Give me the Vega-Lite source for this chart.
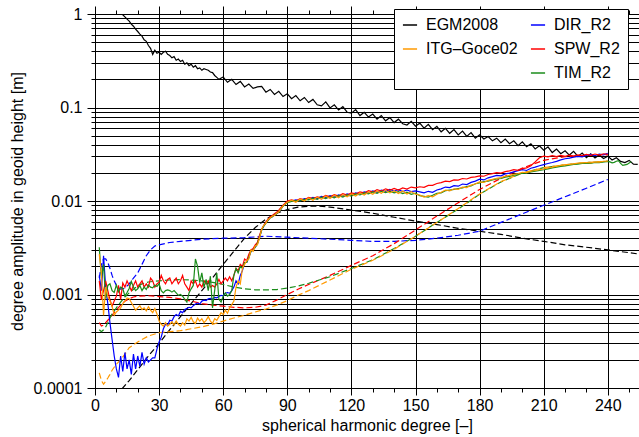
{
"$schema": "https://vega.github.io/schema/vega-lite/v6.json",
"width": 544,
"height": 374,
"autosize": "none",
"padding": {"left": 95, "top": 14, "right": 0, "bottom": 49},
"background": "white",
"config": {"font": "Liberation Sans", "view": {"stroke": null}},
"data": {"values": [
{"k":"EGM2008","t":"d","n":2,"v":0.000049},{"k":"EGM2008","t":"d","n":5,"v":0.000059},{"k":"EGM2008","t":"d","n":8,"v":0.000072},{"k":"EGM2008","t":"d","n":10,"v":0.000083},{"k":"EGM2008","t":"d","n":13,"v":0.0001},{"k":"EGM2008","t":"d","n":16,"v":0.00012},{"k":"EGM2008","t":"d","n":20,"v":0.000157},{"k":"EGM2008","t":"d","n":25,"v":0.00022},{"k":"EGM2008","t":"d","n":30,"v":0.0003},{"k":"EGM2008","t":"d","n":35,"v":0.00042},{"k":"EGM2008","t":"d","n":40,"v":0.00058},{"k":"EGM2008","t":"d","n":45,"v":0.0008},{"k":"EGM2008","t":"d","n":50,"v":0.0011},{"k":"EGM2008","t":"d","n":55,"v":0.0015},{"k":"EGM2008","t":"d","n":60,"v":0.0021},{"k":"EGM2008","t":"d","n":65,"v":0.0029},{"k":"EGM2008","t":"d","n":70,"v":0.004},{"k":"EGM2008","t":"d","n":75,"v":0.0052},{"k":"EGM2008","t":"d","n":80,"v":0.0064},{"k":"EGM2008","t":"d","n":85,"v":0.0074},{"k":"EGM2008","t":"d","n":90,"v":0.0081},{"k":"EGM2008","t":"d","n":95,"v":0.0086},{"k":"EGM2008","t":"d","n":100,"v":0.0088},{"k":"EGM2008","t":"d","n":105,"v":0.0088},{"k":"EGM2008","t":"d","n":110,"v":0.0086},{"k":"EGM2008","t":"d","n":120,"v":0.008},{"k":"EGM2008","t":"d","n":130,"v":0.0074},{"k":"EGM2008","t":"d","n":140,"v":0.0067},{"k":"EGM2008","t":"d","n":150,"v":0.0061},{"k":"EGM2008","t":"d","n":160,"v":0.0056},{"k":"EGM2008","t":"d","n":170,"v":0.0051},{"k":"EGM2008","t":"d","n":180,"v":0.00475},{"k":"EGM2008","t":"d","n":190,"v":0.0044},{"k":"EGM2008","t":"d","n":200,"v":0.004},{"k":"EGM2008","t":"d","n":210,"v":0.0037},{"k":"EGM2008","t":"d","n":220,"v":0.0034},{"k":"EGM2008","t":"d","n":230,"v":0.0032},{"k":"EGM2008","t":"d","n":240,"v":0.003},{"k":"EGM2008","t":"d","n":250,"v":0.0028},{"k":"EGM2008","t":"d","n":254,"v":0.00272},
{"k":"DIR_R2","t":"d","n":2,"v":0.0015},{"k":"DIR_R2","t":"d","n":3,"v":0.0021},{"k":"DIR_R2","t":"d","n":4,"v":0.0024},{"k":"DIR_R2","t":"d","n":5,"v":0.0024},{"k":"DIR_R2","t":"d","n":6,"v":0.0022},{"k":"DIR_R2","t":"d","n":7,"v":0.0019},{"k":"DIR_R2","t":"d","n":8,"v":0.0016},{"k":"DIR_R2","t":"d","n":9,"v":0.0014},{"k":"DIR_R2","t":"d","n":10,"v":0.00125},{"k":"DIR_R2","t":"d","n":11,"v":0.00118},{"k":"DIR_R2","t":"d","n":12,"v":0.00114},{"k":"DIR_R2","t":"d","n":14,"v":0.00117},{"k":"DIR_R2","t":"d","n":16,"v":0.0013},{"k":"DIR_R2","t":"d","n":18,"v":0.0015},{"k":"DIR_R2","t":"d","n":20,"v":0.0017},{"k":"DIR_R2","t":"d","n":22,"v":0.0021},{"k":"DIR_R2","t":"d","n":24,"v":0.0026},{"k":"DIR_R2","t":"d","n":26,"v":0.003},{"k":"DIR_R2","t":"d","n":28,"v":0.0033},{"k":"DIR_R2","t":"d","n":30,"v":0.0034},{"k":"DIR_R2","t":"d","n":35,"v":0.0036},{"k":"DIR_R2","t":"d","n":40,"v":0.0037},{"k":"DIR_R2","t":"d","n":45,"v":0.0038},{"k":"DIR_R2","t":"d","n":50,"v":0.0039},{"k":"DIR_R2","t":"d","n":60,"v":0.004},{"k":"DIR_R2","t":"d","n":70,"v":0.00405},{"k":"DIR_R2","t":"d","n":80,"v":0.0042},{"k":"DIR_R2","t":"d","n":90,"v":0.0041},{"k":"DIR_R2","t":"d","n":100,"v":0.004},{"k":"DIR_R2","t":"d","n":110,"v":0.0039},{"k":"DIR_R2","t":"d","n":120,"v":0.0038},{"k":"DIR_R2","t":"d","n":130,"v":0.0037},{"k":"DIR_R2","t":"d","n":140,"v":0.0037},{"k":"DIR_R2","t":"d","n":150,"v":0.0038},{"k":"DIR_R2","t":"d","n":160,"v":0.004},{"k":"DIR_R2","t":"d","n":170,"v":0.0043},{"k":"DIR_R2","t":"d","n":180,"v":0.00475},{"k":"DIR_R2","t":"d","n":190,"v":0.0059},{"k":"DIR_R2","t":"d","n":200,"v":0.0073},{"k":"DIR_R2","t":"d","n":210,"v":0.009},{"k":"DIR_R2","t":"d","n":220,"v":0.0111},{"k":"DIR_R2","t":"d","n":230,"v":0.0137},{"k":"DIR_R2","t":"d","n":240,"v":0.017},
{"k":"SPW_R2","t":"d","n":2,"v":0.0005},{"k":"SPW_R2","t":"d","n":3,"v":0.00046},{"k":"SPW_R2","t":"d","n":4,"v":0.00047},{"k":"SPW_R2","t":"d","n":5,"v":0.0005},{"k":"SPW_R2","t":"d","n":6,"v":0.00053},{"k":"SPW_R2","t":"d","n":7,"v":0.00056},{"k":"SPW_R2","t":"d","n":8,"v":0.0006},{"k":"SPW_R2","t":"d","n":10,"v":0.00068},{"k":"SPW_R2","t":"d","n":12,"v":0.00077},{"k":"SPW_R2","t":"d","n":14,"v":0.00085},{"k":"SPW_R2","t":"d","n":16,"v":0.0009},{"k":"SPW_R2","t":"d","n":18,"v":0.00094},{"k":"SPW_R2","t":"d","n":20,"v":0.00096},{"k":"SPW_R2","t":"d","n":25,"v":0.00097},{"k":"SPW_R2","t":"d","n":30,"v":0.00095},{"k":"SPW_R2","t":"d","n":35,"v":0.00093},{"k":"SPW_R2","t":"d","n":40,"v":0.0009},{"k":"SPW_R2","t":"d","n":45,"v":0.00085},{"k":"SPW_R2","t":"d","n":50,"v":0.0008},{"k":"SPW_R2","t":"d","n":55,"v":0.00077},{"k":"SPW_R2","t":"d","n":60,"v":0.00075},{"k":"SPW_R2","t":"d","n":65,"v":0.00073},{"k":"SPW_R2","t":"d","n":70,"v":0.00072},{"k":"SPW_R2","t":"d","n":75,"v":0.00073},{"k":"SPW_R2","t":"d","n":80,"v":0.00077},{"k":"SPW_R2","t":"d","n":85,"v":0.00087},{"k":"SPW_R2","t":"d","n":90,"v":0.001},{"k":"SPW_R2","t":"d","n":95,"v":0.00114},{"k":"SPW_R2","t":"d","n":100,"v":0.00128},{"k":"SPW_R2","t":"d","n":110,"v":0.0016},{"k":"SPW_R2","t":"d","n":120,"v":0.00205},{"k":"SPW_R2","t":"d","n":130,"v":0.0026},{"k":"SPW_R2","t":"d","n":140,"v":0.0035},{"k":"SPW_R2","t":"d","n":150,"v":0.0049},{"k":"SPW_R2","t":"d","n":160,"v":0.0069},{"k":"SPW_R2","t":"d","n":170,"v":0.0096},{"k":"SPW_R2","t":"d","n":180,"v":0.0133},{"k":"SPW_R2","t":"d","n":190,"v":0.0175},{"k":"SPW_R2","t":"d","n":200,"v":0.0225},{"k":"SPW_R2","t":"d","n":210,"v":0.0272},{"k":"SPW_R2","t":"d","n":220,"v":0.0298},{"k":"SPW_R2","t":"d","n":230,"v":0.0308},{"k":"SPW_R2","t":"d","n":240,"v":0.0312},
{"k":"TIM_R2","t":"d","n":2,"v":0.00042},{"k":"TIM_R2","t":"d","n":3,"v":0.0004},{"k":"TIM_R2","t":"d","n":4,"v":0.00042},{"k":"TIM_R2","t":"d","n":5,"v":0.00045},{"k":"TIM_R2","t":"d","n":6,"v":0.0005},{"k":"TIM_R2","t":"d","n":7,"v":0.00056},{"k":"TIM_R2","t":"d","n":8,"v":0.00062},{"k":"TIM_R2","t":"d","n":10,"v":0.00072},{"k":"TIM_R2","t":"d","n":12,"v":0.00083},{"k":"TIM_R2","t":"d","n":14,"v":0.00094},{"k":"TIM_R2","t":"d","n":16,"v":0.00104},{"k":"TIM_R2","t":"d","n":18,"v":0.00114},{"k":"TIM_R2","t":"d","n":20,"v":0.00124},{"k":"TIM_R2","t":"d","n":22,"v":0.0013},{"k":"TIM_R2","t":"d","n":25,"v":0.00136},{"k":"TIM_R2","t":"d","n":30,"v":0.0014},{"k":"TIM_R2","t":"d","n":35,"v":0.00143},{"k":"TIM_R2","t":"d","n":40,"v":0.00144},{"k":"TIM_R2","t":"d","n":45,"v":0.00143},{"k":"TIM_R2","t":"d","n":50,"v":0.0014},{"k":"TIM_R2","t":"d","n":55,"v":0.00135},{"k":"TIM_R2","t":"d","n":60,"v":0.00128},{"k":"TIM_R2","t":"d","n":65,"v":0.0012},{"k":"TIM_R2","t":"d","n":70,"v":0.00115},{"k":"TIM_R2","t":"d","n":75,"v":0.00112},{"k":"TIM_R2","t":"d","n":80,"v":0.00112},{"k":"TIM_R2","t":"d","n":85,"v":0.00113},{"k":"TIM_R2","t":"d","n":90,"v":0.00117},{"k":"TIM_R2","t":"d","n":95,"v":0.00123},{"k":"TIM_R2","t":"d","n":100,"v":0.00132},{"k":"TIM_R2","t":"d","n":110,"v":0.00155},{"k":"TIM_R2","t":"d","n":120,"v":0.0019},{"k":"TIM_R2","t":"d","n":130,"v":0.00235},{"k":"TIM_R2","t":"d","n":140,"v":0.0031},{"k":"TIM_R2","t":"d","n":150,"v":0.0042},{"k":"TIM_R2","t":"d","n":160,"v":0.0059},{"k":"TIM_R2","t":"d","n":170,"v":0.0082},{"k":"TIM_R2","t":"d","n":180,"v":0.0118},{"k":"TIM_R2","t":"d","n":190,"v":0.016},{"k":"TIM_R2","t":"d","n":200,"v":0.0199},{"k":"TIM_R2","t":"d","n":210,"v":0.0227},{"k":"TIM_R2","t":"d","n":220,"v":0.0244},{"k":"TIM_R2","t":"d","n":230,"v":0.0257},{"k":"TIM_R2","t":"d","n":240,"v":0.0265},
{"k":"ITG–Goce02","t":"d","n":2,"v":0.000145},{"k":"ITG–Goce02","t":"d","n":3,"v":0.00012},{"k":"ITG–Goce02","t":"d","n":4,"v":0.00011},{"k":"ITG–Goce02","t":"d","n":5,"v":0.000118},{"k":"ITG–Goce02","t":"d","n":6,"v":0.000128},{"k":"ITG–Goce02","t":"d","n":7,"v":0.00014},{"k":"ITG–Goce02","t":"d","n":8,"v":0.000155},{"k":"ITG–Goce02","t":"d","n":10,"v":0.00018},{"k":"ITG–Goce02","t":"d","n":12,"v":0.0002},{"k":"ITG–Goce02","t":"d","n":14,"v":0.00023},{"k":"ITG–Goce02","t":"d","n":16,"v":0.00027},{"k":"ITG–Goce02","t":"d","n":18,"v":0.00029},{"k":"ITG–Goce02","t":"d","n":20,"v":0.00031},{"k":"ITG–Goce02","t":"d","n":22,"v":0.00033},{"k":"ITG–Goce02","t":"d","n":25,"v":0.00036},{"k":"ITG–Goce02","t":"d","n":30,"v":0.00039},{"k":"ITG–Goce02","t":"d","n":35,"v":0.0004},{"k":"ITG–Goce02","t":"d","n":40,"v":0.00041},{"k":"ITG–Goce02","t":"d","n":45,"v":0.00043},{"k":"ITG–Goce02","t":"d","n":50,"v":0.00045},{"k":"ITG–Goce02","t":"d","n":55,"v":0.00048},{"k":"ITG–Goce02","t":"d","n":60,"v":0.00052},{"k":"ITG–Goce02","t":"d","n":65,"v":0.00056},{"k":"ITG–Goce02","t":"d","n":70,"v":0.0006},{"k":"ITG–Goce02","t":"d","n":75,"v":0.00065},{"k":"ITG–Goce02","t":"d","n":80,"v":0.0007},{"k":"ITG–Goce02","t":"d","n":85,"v":0.00077},{"k":"ITG–Goce02","t":"d","n":90,"v":0.00086},{"k":"ITG–Goce02","t":"d","n":95,"v":0.00098},{"k":"ITG–Goce02","t":"d","n":100,"v":0.0011},{"k":"ITG–Goce02","t":"d","n":110,"v":0.00143},{"k":"ITG–Goce02","t":"d","n":120,"v":0.00186},{"k":"ITG–Goce02","t":"d","n":130,"v":0.00232},{"k":"ITG–Goce02","t":"d","n":140,"v":0.00305},{"k":"ITG–Goce02","t":"d","n":150,"v":0.0042},{"k":"ITG–Goce02","t":"d","n":160,"v":0.0059},{"k":"ITG–Goce02","t":"d","n":170,"v":0.0083},{"k":"ITG–Goce02","t":"d","n":180,"v":0.0119},{"k":"ITG–Goce02","t":"d","n":190,"v":0.0161},{"k":"ITG–Goce02","t":"d","n":200,"v":0.02},{"k":"ITG–Goce02","t":"d","n":210,"v":0.0227},{"k":"ITG–Goce02","t":"d","n":220,"v":0.0244},{"k":"ITG–Goce02","t":"d","n":230,"v":0.0258},{"k":"ITG–Goce02","t":"d","n":240,"v":0.0266},
{"k":"EGM2008","t":"s","n":10,"v":1.3},{"k":"EGM2008","t":"s","n":11,"v":1.0},{"k":"EGM2008","t":"s","n":12,"v":1.01},{"k":"EGM2008","t":"s","n":13,"v":0.98},{"k":"EGM2008","t":"s","n":14,"v":0.93},{"k":"EGM2008","t":"s","n":15,"v":0.88},{"k":"EGM2008","t":"s","n":16,"v":0.84},{"k":"EGM2008","t":"s","n":17,"v":0.78},{"k":"EGM2008","t":"s","n":18,"v":0.74},{"k":"EGM2008","t":"s","n":19,"v":0.69},{"k":"EGM2008","t":"s","n":20,"v":0.65},{"k":"EGM2008","t":"s","n":21,"v":0.61},{"k":"EGM2008","t":"s","n":22,"v":0.58},{"k":"EGM2008","t":"s","n":23,"v":0.53},{"k":"EGM2008","t":"s","n":24,"v":0.51},{"k":"EGM2008","t":"s","n":25,"v":0.46},{"k":"EGM2008","t":"s","n":26,"v":0.43},{"k":"EGM2008","t":"s","n":27,"v":0.37},{"k":"EGM2008","t":"s","n":28,"v":0.41},{"k":"EGM2008","t":"s","n":29,"v":0.38},{"k":"EGM2008","t":"s","n":30,"v":0.39},{"k":"EGM2008","t":"s","n":31,"v":0.37},{"k":"EGM2008","t":"s","n":32,"v":0.39},{"k":"EGM2008","t":"s","n":33,"v":0.4},{"k":"EGM2008","t":"s","n":34,"v":0.37},{"k":"EGM2008","t":"s","n":35,"v":0.36},{"k":"EGM2008","t":"s","n":36,"v":0.34},{"k":"EGM2008","t":"s","n":37,"v":0.35},{"k":"EGM2008","t":"s","n":38,"v":0.32},{"k":"EGM2008","t":"s","n":39,"v":0.33},{"k":"EGM2008","t":"s","n":40,"v":0.31},{"k":"EGM2008","t":"s","n":41,"v":0.32},{"k":"EGM2008","t":"s","n":42,"v":0.29},{"k":"EGM2008","t":"s","n":43,"v":0.3},{"k":"EGM2008","t":"s","n":44,"v":0.28},{"k":"EGM2008","t":"s","n":45,"v":0.29},{"k":"EGM2008","t":"s","n":46,"v":0.27},{"k":"EGM2008","t":"s","n":47,"v":0.28},{"k":"EGM2008","t":"s","n":48,"v":0.26},{"k":"EGM2008","t":"s","n":49,"v":0.265},{"k":"EGM2008","t":"s","n":50,"v":0.25},{"k":"EGM2008","t":"s","n":51,"v":0.26},{"k":"EGM2008","t":"s","n":52,"v":0.255},{"k":"EGM2008","t":"s","n":53,"v":0.25},{"k":"EGM2008","t":"s","n":54,"v":0.24},{"k":"EGM2008","t":"s","n":55,"v":0.236},{"k":"EGM2008","t":"s","n":56,"v":0.22},{"k":"EGM2008","t":"s","n":57,"v":0.21},{"k":"EGM2008","t":"s","n":58,"v":0.2},{"k":"EGM2008","t":"s","n":60,"v":0.212},{"k":"EGM2008","t":"s","n":62,"v":0.186},{"k":"EGM2008","t":"s","n":64,"v":0.2},{"k":"EGM2008","t":"s","n":66,"v":0.176},{"k":"EGM2008","t":"s","n":68,"v":0.19},{"k":"EGM2008","t":"s","n":70,"v":0.166},{"k":"EGM2008","t":"s","n":72,"v":0.178},{"k":"EGM2008","t":"s","n":74,"v":0.16},{"k":"EGM2008","t":"s","n":76,"v":0.166},{"k":"EGM2008","t":"s","n":78,"v":0.168},{"k":"EGM2008","t":"s","n":80,"v":0.146},{"k":"EGM2008","t":"s","n":82,"v":0.156},{"k":"EGM2008","t":"s","n":84,"v":0.138},{"k":"EGM2008","t":"s","n":86,"v":0.149},{"k":"EGM2008","t":"s","n":88,"v":0.131},{"k":"EGM2008","t":"s","n":90,"v":0.14},{"k":"EGM2008","t":"s","n":92,"v":0.124},{"k":"EGM2008","t":"s","n":94,"v":0.134},{"k":"EGM2008","t":"s","n":96,"v":0.118},{"k":"EGM2008","t":"s","n":98,"v":0.128},{"k":"EGM2008","t":"s","n":100,"v":0.113},{"k":"EGM2008","t":"s","n":102,"v":0.122},{"k":"EGM2008","t":"s","n":104,"v":0.107},{"k":"EGM2008","t":"s","n":106,"v":0.104},{"k":"EGM2008","t":"s","n":108,"v":0.115},{"k":"EGM2008","t":"s","n":110,"v":0.099},{"k":"EGM2008","t":"s","n":112,"v":0.107},{"k":"EGM2008","t":"s","n":114,"v":0.094},{"k":"EGM2008","t":"s","n":116,"v":0.102},{"k":"EGM2008","t":"s","n":118,"v":0.089},{"k":"EGM2008","t":"s","n":120,"v":0.087},{"k":"EGM2008","t":"s","n":122,"v":0.095},{"k":"EGM2008","t":"s","n":124,"v":0.082},{"k":"EGM2008","t":"s","n":126,"v":0.089},{"k":"EGM2008","t":"s","n":128,"v":0.079},{"k":"EGM2008","t":"s","n":130,"v":0.085},{"k":"EGM2008","t":"s","n":132,"v":0.075},{"k":"EGM2008","t":"s","n":134,"v":0.082},{"k":"EGM2008","t":"s","n":136,"v":0.072},{"k":"EGM2008","t":"s","n":138,"v":0.078},{"k":"EGM2008","t":"s","n":140,"v":0.069},{"k":"EGM2008","t":"s","n":142,"v":0.075},{"k":"EGM2008","t":"s","n":144,"v":0.067},{"k":"EGM2008","t":"s","n":146,"v":0.065},{"k":"EGM2008","t":"s","n":148,"v":0.071},{"k":"EGM2008","t":"s","n":150,"v":0.063},{"k":"EGM2008","t":"s","n":152,"v":0.068},{"k":"EGM2008","t":"s","n":154,"v":0.06},{"k":"EGM2008","t":"s","n":156,"v":0.066},{"k":"EGM2008","t":"s","n":158,"v":0.058},{"k":"EGM2008","t":"s","n":160,"v":0.063},{"k":"EGM2008","t":"s","n":162,"v":0.055},{"k":"EGM2008","t":"s","n":164,"v":0.06},{"k":"EGM2008","t":"s","n":166,"v":0.053},{"k":"EGM2008","t":"s","n":168,"v":0.058},{"k":"EGM2008","t":"s","n":170,"v":0.051},{"k":"EGM2008","t":"s","n":172,"v":0.056},{"k":"EGM2008","t":"s","n":174,"v":0.049},{"k":"EGM2008","t":"s","n":176,"v":0.054},{"k":"EGM2008","t":"s","n":178,"v":0.047},{"k":"EGM2008","t":"s","n":180,"v":0.051},{"k":"EGM2008","t":"s","n":182,"v":0.046},{"k":"EGM2008","t":"s","n":184,"v":0.049},{"k":"EGM2008","t":"s","n":186,"v":0.044},{"k":"EGM2008","t":"s","n":188,"v":0.047},{"k":"EGM2008","t":"s","n":190,"v":0.042},{"k":"EGM2008","t":"s","n":192,"v":0.046},{"k":"EGM2008","t":"s","n":194,"v":0.041},{"k":"EGM2008","t":"s","n":196,"v":0.044},{"k":"EGM2008","t":"s","n":198,"v":0.039},{"k":"EGM2008","t":"s","n":200,"v":0.043},{"k":"EGM2008","t":"s","n":202,"v":0.038},{"k":"EGM2008","t":"s","n":204,"v":0.041},{"k":"EGM2008","t":"s","n":206,"v":0.036},{"k":"EGM2008","t":"s","n":208,"v":0.039},{"k":"EGM2008","t":"s","n":210,"v":0.035},{"k":"EGM2008","t":"s","n":212,"v":0.038},{"k":"EGM2008","t":"s","n":214,"v":0.033},{"k":"EGM2008","t":"s","n":216,"v":0.036},{"k":"EGM2008","t":"s","n":218,"v":0.032},{"k":"EGM2008","t":"s","n":220,"v":0.0345},{"k":"EGM2008","t":"s","n":222,"v":0.031},{"k":"EGM2008","t":"s","n":224,"v":0.034},{"k":"EGM2008","t":"s","n":226,"v":0.03},{"k":"EGM2008","t":"s","n":228,"v":0.0325},{"k":"EGM2008","t":"s","n":230,"v":0.029},{"k":"EGM2008","t":"s","n":232,"v":0.032},{"k":"EGM2008","t":"s","n":234,"v":0.0288},{"k":"EGM2008","t":"s","n":236,"v":0.031},{"k":"EGM2008","t":"s","n":238,"v":0.0285},{"k":"EGM2008","t":"s","n":240,"v":0.0302},{"k":"EGM2008","t":"s","n":242,"v":0.0275},{"k":"EGM2008","t":"s","n":244,"v":0.029},{"k":"EGM2008","t":"s","n":246,"v":0.0265},{"k":"EGM2008","t":"s","n":248,"v":0.0258},{"k":"EGM2008","t":"s","n":250,"v":0.0272},{"k":"EGM2008","t":"s","n":252,"v":0.0248},{"k":"EGM2008","t":"s","n":254,"v":0.0246},
{"k":"DIR_R2","t":"s","n":2,"v":0.0016},{"k":"DIR_R2","t":"s","n":3,"v":0.0011},{"k":"DIR_R2","t":"s","n":4,"v":0.0026},{"k":"DIR_R2","t":"s","n":5,"v":0.0012},{"k":"DIR_R2","t":"s","n":6,"v":0.0008},{"k":"DIR_R2","t":"s","n":7,"v":0.0005},{"k":"DIR_R2","t":"s","n":8,"v":0.00033},{"k":"DIR_R2","t":"s","n":9,"v":0.00022},{"k":"DIR_R2","t":"s","n":10,"v":0.00016},{"k":"DIR_R2","t":"s","n":11,"v":0.00013},{"k":"DIR_R2","t":"s","n":12,"v":0.00022},{"k":"DIR_R2","t":"s","n":13,"v":0.00015},{"k":"DIR_R2","t":"s","n":14,"v":0.00024},{"k":"DIR_R2","t":"s","n":15,"v":0.00016},{"k":"DIR_R2","t":"s","n":16,"v":0.0002},{"k":"DIR_R2","t":"s","n":17,"v":0.00014},{"k":"DIR_R2","t":"s","n":18,"v":0.00023},{"k":"DIR_R2","t":"s","n":19,"v":0.00016},{"k":"DIR_R2","t":"s","n":20,"v":0.00022},{"k":"DIR_R2","t":"s","n":21,"v":0.00017},{"k":"DIR_R2","t":"s","n":22,"v":0.00024},{"k":"DIR_R2","t":"s","n":23,"v":0.00018},{"k":"DIR_R2","t":"s","n":24,"v":0.00021},{"k":"DIR_R2","t":"s","n":25,"v":0.00019},{"k":"DIR_R2","t":"s","n":26,"v":0.0002},{"k":"DIR_R2","t":"s","n":27,"v":0.00021},{"k":"DIR_R2","t":"s","n":28,"v":0.00021},{"k":"DIR_R2","t":"s","n":29,"v":0.00026},{"k":"DIR_R2","t":"s","n":30,"v":0.00031},{"k":"DIR_R2","t":"s","n":31,"v":0.00035},{"k":"DIR_R2","t":"s","n":32,"v":0.00043},{"k":"DIR_R2","t":"s","n":33,"v":0.00048},{"k":"DIR_R2","t":"s","n":34,"v":0.00047},{"k":"DIR_R2","t":"s","n":35,"v":0.00053},{"k":"DIR_R2","t":"s","n":36,"v":0.00052},{"k":"DIR_R2","t":"s","n":37,"v":0.00058},{"k":"DIR_R2","t":"s","n":38,"v":0.00061},{"k":"DIR_R2","t":"s","n":39,"v":0.00059},{"k":"DIR_R2","t":"s","n":40,"v":0.00066},{"k":"DIR_R2","t":"s","n":41,"v":0.00064},{"k":"DIR_R2","t":"s","n":42,"v":0.00069},{"k":"DIR_R2","t":"s","n":43,"v":0.00071},{"k":"DIR_R2","t":"s","n":44,"v":0.00073},{"k":"DIR_R2","t":"s","n":45,"v":0.00072},{"k":"DIR_R2","t":"s","n":46,"v":0.00076},{"k":"DIR_R2","t":"s","n":47,"v":0.00079},{"k":"DIR_R2","t":"s","n":48,"v":0.00081},{"k":"DIR_R2","t":"s","n":49,"v":0.00079},{"k":"DIR_R2","t":"s","n":50,"v":0.00085},{"k":"DIR_R2","t":"s","n":51,"v":0.00087},{"k":"DIR_R2","t":"s","n":52,"v":0.00086},{"k":"DIR_R2","t":"s","n":53,"v":0.0009},{"k":"DIR_R2","t":"s","n":54,"v":0.00091},{"k":"DIR_R2","t":"s","n":55,"v":0.00089},{"k":"DIR_R2","t":"s","n":56,"v":0.00093},{"k":"DIR_R2","t":"s","n":57,"v":0.00092},{"k":"DIR_R2","t":"s","n":58,"v":0.00095},{"k":"DIR_R2","t":"s","n":59,"v":0.00098},{"k":"DIR_R2","t":"s","n":60,"v":0.00097},{"k":"DIR_R2","t":"s","n":61,"v":0.00103},{"k":"DIR_R2","t":"s","n":62,"v":0.00105},{"k":"DIR_R2","t":"s","n":63,"v":0.00103},{"k":"DIR_R2","t":"s","n":64,"v":0.0011},{"k":"DIR_R2","t":"s","n":65,"v":0.0012},{"k":"DIR_R2","t":"s","n":66,"v":0.0014},{"k":"DIR_R2","t":"s","n":67,"v":0.0013},{"k":"DIR_R2","t":"s","n":68,"v":0.0016},{"k":"DIR_R2","t":"s","n":69,"v":0.0018},{"k":"DIR_R2","t":"s","n":70,"v":0.0022},{"k":"DIR_R2","t":"s","n":71,"v":0.0022},{"k":"DIR_R2","t":"s","n":72,"v":0.0025},{"k":"DIR_R2","t":"s","n":73,"v":0.0029},{"k":"DIR_R2","t":"s","n":74,"v":0.003},{"k":"DIR_R2","t":"s","n":75,"v":0.0032},{"k":"DIR_R2","t":"s","n":76,"v":0.0035},{"k":"DIR_R2","t":"s","n":77,"v":0.0041},{"k":"DIR_R2","t":"s","n":78,"v":0.0049},{"k":"DIR_R2","t":"s","n":79,"v":0.0054},{"k":"DIR_R2","t":"s","n":80,"v":0.0059},{"k":"DIR_R2","t":"s","n":81,"v":0.0062},{"k":"DIR_R2","t":"s","n":82,"v":0.0067},{"k":"DIR_R2","t":"s","n":83,"v":0.0068},{"k":"DIR_R2","t":"s","n":84,"v":0.0071},{"k":"DIR_R2","t":"s","n":85,"v":0.0073},{"k":"DIR_R2","t":"s","n":86,"v":0.0077},{"k":"DIR_R2","t":"s","n":87,"v":0.0082},{"k":"DIR_R2","t":"s","n":88,"v":0.0089},{"k":"DIR_R2","t":"s","n":89,"v":0.0092},{"k":"DIR_R2","t":"s","n":90,"v":0.0098},{"k":"DIR_R2","t":"s","n":92,"v":0.01},{"k":"DIR_R2","t":"s","n":94,"v":0.0103},{"k":"DIR_R2","t":"s","n":96,"v":0.0101},{"k":"DIR_R2","t":"s","n":98,"v":0.0106},{"k":"DIR_R2","t":"s","n":100,"v":0.0104},{"k":"DIR_R2","t":"s","n":102,"v":0.0109},{"k":"DIR_R2","t":"s","n":104,"v":0.0106},{"k":"DIR_R2","t":"s","n":106,"v":0.0112},{"k":"DIR_R2","t":"s","n":108,"v":0.0109},{"k":"DIR_R2","t":"s","n":110,"v":0.0114},{"k":"DIR_R2","t":"s","n":112,"v":0.011},{"k":"DIR_R2","t":"s","n":114,"v":0.0116},{"k":"DIR_R2","t":"s","n":116,"v":0.0113},{"k":"DIR_R2","t":"s","n":118,"v":0.0119},{"k":"DIR_R2","t":"s","n":120,"v":0.0116},{"k":"DIR_R2","t":"s","n":122,"v":0.0122},{"k":"DIR_R2","t":"s","n":124,"v":0.0119},{"k":"DIR_R2","t":"s","n":126,"v":0.0125},{"k":"DIR_R2","t":"s","n":128,"v":0.0122},{"k":"DIR_R2","t":"s","n":130,"v":0.0128},{"k":"DIR_R2","t":"s","n":132,"v":0.0124},{"k":"DIR_R2","t":"s","n":134,"v":0.0131},{"k":"DIR_R2","t":"s","n":136,"v":0.0127},{"k":"DIR_R2","t":"s","n":138,"v":0.0133},{"k":"DIR_R2","t":"s","n":140,"v":0.0128},{"k":"DIR_R2","t":"s","n":142,"v":0.0132},{"k":"DIR_R2","t":"s","n":144,"v":0.0126},{"k":"DIR_R2","t":"s","n":146,"v":0.0131},{"k":"DIR_R2","t":"s","n":148,"v":0.0126},{"k":"DIR_R2","t":"s","n":150,"v":0.0128},{"k":"DIR_R2","t":"s","n":152,"v":0.0125},{"k":"DIR_R2","t":"s","n":154,"v":0.0122},{"k":"DIR_R2","t":"s","n":156,"v":0.0127},{"k":"DIR_R2","t":"s","n":158,"v":0.0124},{"k":"DIR_R2","t":"s","n":160,"v":0.0131},{"k":"DIR_R2","t":"s","n":162,"v":0.0135},{"k":"DIR_R2","t":"s","n":164,"v":0.0141},{"k":"DIR_R2","t":"s","n":166,"v":0.0139},{"k":"DIR_R2","t":"s","n":168,"v":0.0146},{"k":"DIR_R2","t":"s","n":170,"v":0.0144},{"k":"DIR_R2","t":"s","n":172,"v":0.0152},{"k":"DIR_R2","t":"s","n":174,"v":0.015},{"k":"DIR_R2","t":"s","n":176,"v":0.0158},{"k":"DIR_R2","t":"s","n":178,"v":0.0163},{"k":"DIR_R2","t":"s","n":180,"v":0.0171},{"k":"DIR_R2","t":"s","n":182,"v":0.0168},{"k":"DIR_R2","t":"s","n":184,"v":0.0177},{"k":"DIR_R2","t":"s","n":186,"v":0.0182},{"k":"DIR_R2","t":"s","n":188,"v":0.0188},{"k":"DIR_R2","t":"s","n":190,"v":0.0186},{"k":"DIR_R2","t":"s","n":192,"v":0.0195},{"k":"DIR_R2","t":"s","n":194,"v":0.0199},{"k":"DIR_R2","t":"s","n":196,"v":0.0205},{"k":"DIR_R2","t":"s","n":198,"v":0.0211},{"k":"DIR_R2","t":"s","n":200,"v":0.0216},{"k":"DIR_R2","t":"s","n":202,"v":0.0212},{"k":"DIR_R2","t":"s","n":204,"v":0.0224},{"k":"DIR_R2","t":"s","n":206,"v":0.023},{"k":"DIR_R2","t":"s","n":208,"v":0.0238},{"k":"DIR_R2","t":"s","n":210,"v":0.0245},{"k":"DIR_R2","t":"s","n":212,"v":0.0252},{"k":"DIR_R2","t":"s","n":214,"v":0.0258},{"k":"DIR_R2","t":"s","n":216,"v":0.0265},{"k":"DIR_R2","t":"s","n":218,"v":0.0275},{"k":"DIR_R2","t":"s","n":220,"v":0.0283},{"k":"DIR_R2","t":"s","n":222,"v":0.0288},{"k":"DIR_R2","t":"s","n":224,"v":0.0295},{"k":"DIR_R2","t":"s","n":226,"v":0.03},{"k":"DIR_R2","t":"s","n":228,"v":0.0297},{"k":"DIR_R2","t":"s","n":230,"v":0.0307},{"k":"DIR_R2","t":"s","n":232,"v":0.0315},{"k":"DIR_R2","t":"s","n":234,"v":0.0305},{"k":"DIR_R2","t":"s","n":236,"v":0.0318},{"k":"DIR_R2","t":"s","n":238,"v":0.0312},{"k":"DIR_R2","t":"s","n":240,"v":0.0323},
{"k":"SPW_R2","t":"s","n":2,"v":0.0014},{"k":"SPW_R2","t":"s","n":3,"v":0.00088},{"k":"SPW_R2","t":"s","n":4,"v":0.0011},{"k":"SPW_R2","t":"s","n":5,"v":0.0014},{"k":"SPW_R2","t":"s","n":6,"v":0.0011},{"k":"SPW_R2","t":"s","n":7,"v":0.00088},{"k":"SPW_R2","t":"s","n":8,"v":0.00075},{"k":"SPW_R2","t":"s","n":9,"v":0.00085},{"k":"SPW_R2","t":"s","n":10,"v":0.00096},{"k":"SPW_R2","t":"s","n":11,"v":0.00125},{"k":"SPW_R2","t":"s","n":12,"v":0.00088},{"k":"SPW_R2","t":"s","n":13,"v":0.00133},{"k":"SPW_R2","t":"s","n":14,"v":0.0012},{"k":"SPW_R2","t":"s","n":15,"v":0.0014},{"k":"SPW_R2","t":"s","n":16,"v":0.00125},{"k":"SPW_R2","t":"s","n":17,"v":0.0011},{"k":"SPW_R2","t":"s","n":18,"v":0.00125},{"k":"SPW_R2","t":"s","n":19,"v":0.0014},{"k":"SPW_R2","t":"s","n":20,"v":0.0012},{"k":"SPW_R2","t":"s","n":21,"v":0.0013},{"k":"SPW_R2","t":"s","n":22,"v":0.0014},{"k":"SPW_R2","t":"s","n":23,"v":0.0012},{"k":"SPW_R2","t":"s","n":24,"v":0.0013},{"k":"SPW_R2","t":"s","n":25,"v":0.0012},{"k":"SPW_R2","t":"s","n":26,"v":0.0015},{"k":"SPW_R2","t":"s","n":27,"v":0.0014},{"k":"SPW_R2","t":"s","n":28,"v":0.0012},{"k":"SPW_R2","t":"s","n":29,"v":0.0013},{"k":"SPW_R2","t":"s","n":30,"v":0.00135},{"k":"SPW_R2","t":"s","n":31,"v":0.0016},{"k":"SPW_R2","t":"s","n":32,"v":0.0014},{"k":"SPW_R2","t":"s","n":33,"v":0.0013},{"k":"SPW_R2","t":"s","n":34,"v":0.00145},{"k":"SPW_R2","t":"s","n":35,"v":0.0015},{"k":"SPW_R2","t":"s","n":36,"v":0.0013},{"k":"SPW_R2","t":"s","n":37,"v":0.0014},{"k":"SPW_R2","t":"s","n":38,"v":0.0015},{"k":"SPW_R2","t":"s","n":39,"v":0.0013},{"k":"SPW_R2","t":"s","n":40,"v":0.0014},{"k":"SPW_R2","t":"s","n":41,"v":0.0016},{"k":"SPW_R2","t":"s","n":42,"v":0.0013},{"k":"SPW_R2","t":"s","n":43,"v":0.0012},{"k":"SPW_R2","t":"s","n":44,"v":0.0011},{"k":"SPW_R2","t":"s","n":45,"v":0.0014},{"k":"SPW_R2","t":"s","n":46,"v":0.0013},{"k":"SPW_R2","t":"s","n":47,"v":0.0014},{"k":"SPW_R2","t":"s","n":48,"v":0.0012},{"k":"SPW_R2","t":"s","n":49,"v":0.0013},{"k":"SPW_R2","t":"s","n":50,"v":0.0012},{"k":"SPW_R2","t":"s","n":51,"v":0.0014},{"k":"SPW_R2","t":"s","n":52,"v":0.0013},{"k":"SPW_R2","t":"s","n":53,"v":0.0014},{"k":"SPW_R2","t":"s","n":54,"v":0.0012},{"k":"SPW_R2","t":"s","n":55,"v":0.00125},{"k":"SPW_R2","t":"s","n":56,"v":0.0012},{"k":"SPW_R2","t":"s","n":57,"v":0.0013},{"k":"SPW_R2","t":"s","n":58,"v":0.00145},{"k":"SPW_R2","t":"s","n":59,"v":0.0013},{"k":"SPW_R2","t":"s","n":60,"v":0.0014},{"k":"SPW_R2","t":"s","n":61,"v":0.0015},{"k":"SPW_R2","t":"s","n":62,"v":0.0014},{"k":"SPW_R2","t":"s","n":63,"v":0.00155},{"k":"SPW_R2","t":"s","n":64,"v":0.0014},{"k":"SPW_R2","t":"s","n":65,"v":0.0016},{"k":"SPW_R2","t":"s","n":66,"v":0.0019},{"k":"SPW_R2","t":"s","n":67,"v":0.0018},{"k":"SPW_R2","t":"s","n":68,"v":0.0021},{"k":"SPW_R2","t":"s","n":69,"v":0.002},{"k":"SPW_R2","t":"s","n":70,"v":0.0024},{"k":"SPW_R2","t":"s","n":71,"v":0.0023},{"k":"SPW_R2","t":"s","n":72,"v":0.0027},{"k":"SPW_R2","t":"s","n":73,"v":0.003},{"k":"SPW_R2","t":"s","n":74,"v":0.0031},{"k":"SPW_R2","t":"s","n":75,"v":0.0034},{"k":"SPW_R2","t":"s","n":76,"v":0.0036},{"k":"SPW_R2","t":"s","n":77,"v":0.0043},{"k":"SPW_R2","t":"s","n":78,"v":0.005},{"k":"SPW_R2","t":"s","n":79,"v":0.0055},{"k":"SPW_R2","t":"s","n":80,"v":0.006},{"k":"SPW_R2","t":"s","n":81,"v":0.0064},{"k":"SPW_R2","t":"s","n":82,"v":0.0068},{"k":"SPW_R2","t":"s","n":83,"v":0.007},{"k":"SPW_R2","t":"s","n":84,"v":0.0073},{"k":"SPW_R2","t":"s","n":85,"v":0.0076},{"k":"SPW_R2","t":"s","n":86,"v":0.008},{"k":"SPW_R2","t":"s","n":87,"v":0.0085},{"k":"SPW_R2","t":"s","n":88,"v":0.009},{"k":"SPW_R2","t":"s","n":89,"v":0.0095},{"k":"SPW_R2","t":"s","n":90,"v":0.01},{"k":"SPW_R2","t":"s","n":92,"v":0.0103},{"k":"SPW_R2","t":"s","n":94,"v":0.01},{"k":"SPW_R2","t":"s","n":96,"v":0.0106},{"k":"SPW_R2","t":"s","n":98,"v":0.0103},{"k":"SPW_R2","t":"s","n":100,"v":0.0109},{"k":"SPW_R2","t":"s","n":102,"v":0.0106},{"k":"SPW_R2","t":"s","n":104,"v":0.0111},{"k":"SPW_R2","t":"s","n":106,"v":0.0108},{"k":"SPW_R2","t":"s","n":108,"v":0.0115},{"k":"SPW_R2","t":"s","n":110,"v":0.0111},{"k":"SPW_R2","t":"s","n":112,"v":0.0117},{"k":"SPW_R2","t":"s","n":114,"v":0.0113},{"k":"SPW_R2","t":"s","n":116,"v":0.012},{"k":"SPW_R2","t":"s","n":118,"v":0.0116},{"k":"SPW_R2","t":"s","n":120,"v":0.0122},{"k":"SPW_R2","t":"s","n":122,"v":0.0119},{"k":"SPW_R2","t":"s","n":124,"v":0.0125},{"k":"SPW_R2","t":"s","n":126,"v":0.0122},{"k":"SPW_R2","t":"s","n":128,"v":0.0129},{"k":"SPW_R2","t":"s","n":130,"v":0.0125},{"k":"SPW_R2","t":"s","n":132,"v":0.0132},{"k":"SPW_R2","t":"s","n":134,"v":0.0128},{"k":"SPW_R2","t":"s","n":136,"v":0.0135},{"k":"SPW_R2","t":"s","n":138,"v":0.013},{"k":"SPW_R2","t":"s","n":140,"v":0.0136},{"k":"SPW_R2","t":"s","n":142,"v":0.0131},{"k":"SPW_R2","t":"s","n":144,"v":0.0138},{"k":"SPW_R2","t":"s","n":146,"v":0.0134},{"k":"SPW_R2","t":"s","n":148,"v":0.0141},{"k":"SPW_R2","t":"s","n":150,"v":0.0138},{"k":"SPW_R2","t":"s","n":152,"v":0.0142},{"k":"SPW_R2","t":"s","n":154,"v":0.014},{"k":"SPW_R2","t":"s","n":156,"v":0.0147},{"k":"SPW_R2","t":"s","n":158,"v":0.0147},{"k":"SPW_R2","t":"s","n":160,"v":0.0154},{"k":"SPW_R2","t":"s","n":162,"v":0.0157},{"k":"SPW_R2","t":"s","n":164,"v":0.0163},{"k":"SPW_R2","t":"s","n":166,"v":0.0161},{"k":"SPW_R2","t":"s","n":168,"v":0.0168},{"k":"SPW_R2","t":"s","n":170,"v":0.0167},{"k":"SPW_R2","t":"s","n":172,"v":0.0174},{"k":"SPW_R2","t":"s","n":174,"v":0.0172},{"k":"SPW_R2","t":"s","n":176,"v":0.0179},{"k":"SPW_R2","t":"s","n":178,"v":0.0181},{"k":"SPW_R2","t":"s","n":180,"v":0.0186},{"k":"SPW_R2","t":"s","n":182,"v":0.0184},{"k":"SPW_R2","t":"s","n":184,"v":0.0192},{"k":"SPW_R2","t":"s","n":186,"v":0.0196},{"k":"SPW_R2","t":"s","n":188,"v":0.0201},{"k":"SPW_R2","t":"s","n":190,"v":0.0199},{"k":"SPW_R2","t":"s","n":192,"v":0.0206},{"k":"SPW_R2","t":"s","n":194,"v":0.021},{"k":"SPW_R2","t":"s","n":196,"v":0.0216},{"k":"SPW_R2","t":"s","n":198,"v":0.0213},{"k":"SPW_R2","t":"s","n":200,"v":0.0222},{"k":"SPW_R2","t":"s","n":202,"v":0.0226},{"k":"SPW_R2","t":"s","n":204,"v":0.0238},{"k":"SPW_R2","t":"s","n":206,"v":0.0262},{"k":"SPW_R2","t":"s","n":208,"v":0.029},{"k":"SPW_R2","t":"s","n":210,"v":0.0302},{"k":"SPW_R2","t":"s","n":212,"v":0.0296},{"k":"SPW_R2","t":"s","n":214,"v":0.0305},{"k":"SPW_R2","t":"s","n":216,"v":0.0298},{"k":"SPW_R2","t":"s","n":218,"v":0.0308},{"k":"SPW_R2","t":"s","n":220,"v":0.03},{"k":"SPW_R2","t":"s","n":222,"v":0.031},{"k":"SPW_R2","t":"s","n":224,"v":0.0303},{"k":"SPW_R2","t":"s","n":226,"v":0.0312},{"k":"SPW_R2","t":"s","n":228,"v":0.0306},{"k":"SPW_R2","t":"s","n":230,"v":0.0315},{"k":"SPW_R2","t":"s","n":232,"v":0.0308},{"k":"SPW_R2","t":"s","n":234,"v":0.0318},{"k":"SPW_R2","t":"s","n":236,"v":0.031},{"k":"SPW_R2","t":"s","n":238,"v":0.032},{"k":"SPW_R2","t":"s","n":240,"v":0.0315},
{"k":"TIM_R2","t":"s","n":2,"v":0.0032},{"k":"TIM_R2","t":"s","n":3,"v":0.0015},{"k":"TIM_R2","t":"s","n":4,"v":0.0021},{"k":"TIM_R2","t":"s","n":5,"v":0.0009},{"k":"TIM_R2","t":"s","n":6,"v":0.00125},{"k":"TIM_R2","t":"s","n":7,"v":0.0013},{"k":"TIM_R2","t":"s","n":8,"v":0.0011},{"k":"TIM_R2","t":"s","n":9,"v":0.00105},{"k":"TIM_R2","t":"s","n":10,"v":0.00126},{"k":"TIM_R2","t":"s","n":11,"v":0.00107},{"k":"TIM_R2","t":"s","n":12,"v":0.0012},{"k":"TIM_R2","t":"s","n":13,"v":0.00116},{"k":"TIM_R2","t":"s","n":14,"v":0.00096},{"k":"TIM_R2","t":"s","n":15,"v":0.00105},{"k":"TIM_R2","t":"s","n":16,"v":0.00116},{"k":"TIM_R2","t":"s","n":17,"v":0.00138},{"k":"TIM_R2","t":"s","n":18,"v":0.0012},{"k":"TIM_R2","t":"s","n":19,"v":0.0011},{"k":"TIM_R2","t":"s","n":20,"v":0.00115},{"k":"TIM_R2","t":"s","n":21,"v":0.00125},{"k":"TIM_R2","t":"s","n":22,"v":0.0011},{"k":"TIM_R2","t":"s","n":23,"v":0.0012},{"k":"TIM_R2","t":"s","n":24,"v":0.00113},{"k":"TIM_R2","t":"s","n":25,"v":0.00126},{"k":"TIM_R2","t":"s","n":26,"v":0.0012},{"k":"TIM_R2","t":"s","n":27,"v":0.00118},{"k":"TIM_R2","t":"s","n":28,"v":0.00126},{"k":"TIM_R2","t":"s","n":29,"v":0.00122},{"k":"TIM_R2","t":"s","n":30,"v":0.0013},{"k":"TIM_R2","t":"s","n":31,"v":0.0011},{"k":"TIM_R2","t":"s","n":32,"v":0.00104},{"k":"TIM_R2","t":"s","n":33,"v":0.0011},{"k":"TIM_R2","t":"s","n":34,"v":0.00112},{"k":"TIM_R2","t":"s","n":35,"v":0.0011},{"k":"TIM_R2","t":"s","n":36,"v":0.00106},{"k":"TIM_R2","t":"s","n":37,"v":0.0011},{"k":"TIM_R2","t":"s","n":38,"v":0.00104},{"k":"TIM_R2","t":"s","n":39,"v":0.00098},{"k":"TIM_R2","t":"s","n":40,"v":0.001},{"k":"TIM_R2","t":"s","n":41,"v":0.00096},{"k":"TIM_R2","t":"s","n":42,"v":0.00089},{"k":"TIM_R2","t":"s","n":43,"v":0.00083},{"k":"TIM_R2","t":"s","n":44,"v":0.00104},{"k":"TIM_R2","t":"s","n":45,"v":0.00115},{"k":"TIM_R2","t":"s","n":46,"v":0.00125},{"k":"TIM_R2","t":"s","n":47,"v":0.0024},{"k":"TIM_R2","t":"s","n":48,"v":0.002},{"k":"TIM_R2","t":"s","n":49,"v":0.00134},{"k":"TIM_R2","t":"s","n":50,"v":0.0017},{"k":"TIM_R2","t":"s","n":51,"v":0.0012},{"k":"TIM_R2","t":"s","n":52,"v":0.00145},{"k":"TIM_R2","t":"s","n":53,"v":0.0011},{"k":"TIM_R2","t":"s","n":54,"v":0.00157},{"k":"TIM_R2","t":"s","n":55,"v":0.00072},{"k":"TIM_R2","t":"s","n":56,"v":0.0011},{"k":"TIM_R2","t":"s","n":57,"v":0.0017},{"k":"TIM_R2","t":"s","n":58,"v":0.00089},{"k":"TIM_R2","t":"s","n":59,"v":0.00083},{"k":"TIM_R2","t":"s","n":60,"v":0.00096},{"k":"TIM_R2","t":"s","n":61,"v":0.00104},{"k":"TIM_R2","t":"s","n":62,"v":0.00096},{"k":"TIM_R2","t":"s","n":63,"v":0.001},{"k":"TIM_R2","t":"s","n":64,"v":0.0011},{"k":"TIM_R2","t":"s","n":65,"v":0.0016},{"k":"TIM_R2","t":"s","n":66,"v":0.0019},{"k":"TIM_R2","t":"s","n":67,"v":0.0017},{"k":"TIM_R2","t":"s","n":68,"v":0.002},{"k":"TIM_R2","t":"s","n":69,"v":0.0019},{"k":"TIM_R2","t":"s","n":70,"v":0.0022},{"k":"TIM_R2","t":"s","n":71,"v":0.0022},{"k":"TIM_R2","t":"s","n":72,"v":0.0025},{"k":"TIM_R2","t":"s","n":73,"v":0.0029},{"k":"TIM_R2","t":"s","n":74,"v":0.003},{"k":"TIM_R2","t":"s","n":75,"v":0.0032},{"k":"TIM_R2","t":"s","n":76,"v":0.0035},{"k":"TIM_R2","t":"s","n":77,"v":0.0041},{"k":"TIM_R2","t":"s","n":78,"v":0.0049},{"k":"TIM_R2","t":"s","n":79,"v":0.0054},{"k":"TIM_R2","t":"s","n":80,"v":0.0058},{"k":"TIM_R2","t":"s","n":81,"v":0.0062},{"k":"TIM_R2","t":"s","n":82,"v":0.0066},{"k":"TIM_R2","t":"s","n":83,"v":0.0068},{"k":"TIM_R2","t":"s","n":84,"v":0.0071},{"k":"TIM_R2","t":"s","n":85,"v":0.0073},{"k":"TIM_R2","t":"s","n":86,"v":0.0077},{"k":"TIM_R2","t":"s","n":87,"v":0.0082},{"k":"TIM_R2","t":"s","n":88,"v":0.0088},{"k":"TIM_R2","t":"s","n":89,"v":0.0092},{"k":"TIM_R2","t":"s","n":90,"v":0.0096},{"k":"TIM_R2","t":"s","n":92,"v":0.0099},{"k":"TIM_R2","t":"s","n":94,"v":0.0101},{"k":"TIM_R2","t":"s","n":96,"v":0.01},{"k":"TIM_R2","t":"s","n":98,"v":0.0104},{"k":"TIM_R2","t":"s","n":100,"v":0.0103},{"k":"TIM_R2","t":"s","n":102,"v":0.0107},{"k":"TIM_R2","t":"s","n":104,"v":0.0104},{"k":"TIM_R2","t":"s","n":106,"v":0.011},{"k":"TIM_R2","t":"s","n":108,"v":0.0106},{"k":"TIM_R2","t":"s","n":110,"v":0.0111},{"k":"TIM_R2","t":"s","n":112,"v":0.0108},{"k":"TIM_R2","t":"s","n":114,"v":0.0114},{"k":"TIM_R2","t":"s","n":116,"v":0.011},{"k":"TIM_R2","t":"s","n":118,"v":0.0116},{"k":"TIM_R2","t":"s","n":120,"v":0.0113},{"k":"TIM_R2","t":"s","n":122,"v":0.0119},{"k":"TIM_R2","t":"s","n":124,"v":0.0116},{"k":"TIM_R2","t":"s","n":126,"v":0.0122},{"k":"TIM_R2","t":"s","n":128,"v":0.0119},{"k":"TIM_R2","t":"s","n":130,"v":0.0125},{"k":"TIM_R2","t":"s","n":132,"v":0.0121},{"k":"TIM_R2","t":"s","n":134,"v":0.0127},{"k":"TIM_R2","t":"s","n":136,"v":0.0123},{"k":"TIM_R2","t":"s","n":138,"v":0.0127},{"k":"TIM_R2","t":"s","n":140,"v":0.0122},{"k":"TIM_R2","t":"s","n":142,"v":0.0126},{"k":"TIM_R2","t":"s","n":144,"v":0.012},{"k":"TIM_R2","t":"s","n":146,"v":0.0124},{"k":"TIM_R2","t":"s","n":148,"v":0.0118},{"k":"TIM_R2","t":"s","n":150,"v":0.0121},{"k":"TIM_R2","t":"s","n":152,"v":0.0114},{"k":"TIM_R2","t":"s","n":154,"v":0.0112},{"k":"TIM_R2","t":"s","n":156,"v":0.011},{"k":"TIM_R2","t":"s","n":158,"v":0.0115},{"k":"TIM_R2","t":"s","n":160,"v":0.0121},{"k":"TIM_R2","t":"s","n":162,"v":0.0122},{"k":"TIM_R2","t":"s","n":164,"v":0.0129},{"k":"TIM_R2","t":"s","n":166,"v":0.0131},{"k":"TIM_R2","t":"s","n":168,"v":0.0133},{"k":"TIM_R2","t":"s","n":170,"v":0.0136},{"k":"TIM_R2","t":"s","n":172,"v":0.0138},{"k":"TIM_R2","t":"s","n":174,"v":0.0143},{"k":"TIM_R2","t":"s","n":176,"v":0.0145},{"k":"TIM_R2","t":"s","n":178,"v":0.0153},{"k":"TIM_R2","t":"s","n":180,"v":0.0156},{"k":"TIM_R2","t":"s","n":182,"v":0.0161},{"k":"TIM_R2","t":"s","n":184,"v":0.0163},{"k":"TIM_R2","t":"s","n":186,"v":0.0168},{"k":"TIM_R2","t":"s","n":188,"v":0.0172},{"k":"TIM_R2","t":"s","n":190,"v":0.0174},{"k":"TIM_R2","t":"s","n":192,"v":0.018},{"k":"TIM_R2","t":"s","n":194,"v":0.0183},{"k":"TIM_R2","t":"s","n":196,"v":0.0189},{"k":"TIM_R2","t":"s","n":198,"v":0.0192},{"k":"TIM_R2","t":"s","n":200,"v":0.0198},{"k":"TIM_R2","t":"s","n":202,"v":0.0199},{"k":"TIM_R2","t":"s","n":204,"v":0.0205},{"k":"TIM_R2","t":"s","n":206,"v":0.0208},{"k":"TIM_R2","t":"s","n":208,"v":0.0213},{"k":"TIM_R2","t":"s","n":210,"v":0.0216},{"k":"TIM_R2","t":"s","n":212,"v":0.0221},{"k":"TIM_R2","t":"s","n":214,"v":0.0226},{"k":"TIM_R2","t":"s","n":216,"v":0.023},{"k":"TIM_R2","t":"s","n":218,"v":0.0235},{"k":"TIM_R2","t":"s","n":220,"v":0.0238},{"k":"TIM_R2","t":"s","n":222,"v":0.0242},{"k":"TIM_R2","t":"s","n":224,"v":0.0246},{"k":"TIM_R2","t":"s","n":226,"v":0.0248},{"k":"TIM_R2","t":"s","n":228,"v":0.0252},{"k":"TIM_R2","t":"s","n":230,"v":0.0254},{"k":"TIM_R2","t":"s","n":232,"v":0.0253},{"k":"TIM_R2","t":"s","n":234,"v":0.0258},{"k":"TIM_R2","t":"s","n":236,"v":0.0257},{"k":"TIM_R2","t":"s","n":238,"v":0.0262},{"k":"TIM_R2","t":"s","n":240,"v":0.0265},{"k":"TIM_R2","t":"s","n":241,"v":0.0262},{"k":"TIM_R2","t":"s","n":242,"v":0.0256},{"k":"TIM_R2","t":"s","n":243,"v":0.0259},{"k":"TIM_R2","t":"s","n":244,"v":0.0266},{"k":"TIM_R2","t":"s","n":245,"v":0.027},{"k":"TIM_R2","t":"s","n":246,"v":0.0252},{"k":"TIM_R2","t":"s","n":247,"v":0.024},{"k":"TIM_R2","t":"s","n":248,"v":0.0243},{"k":"TIM_R2","t":"s","n":249,"v":0.0246},{"k":"TIM_R2","t":"s","n":250,"v":0.0255},{"k":"TIM_R2","t":"s","n":251,"v":0.0263},
{"k":"ITG–Goce02","t":"s","n":2,"v":0.0027},{"k":"ITG–Goce02","t":"s","n":3,"v":0.0017},{"k":"ITG–Goce02","t":"s","n":4,"v":0.0006},{"k":"ITG–Goce02","t":"s","n":5,"v":0.0012},{"k":"ITG–Goce02","t":"s","n":6,"v":0.00095},{"k":"ITG–Goce02","t":"s","n":7,"v":0.00085},{"k":"ITG–Goce02","t":"s","n":8,"v":0.00075},{"k":"ITG–Goce02","t":"s","n":9,"v":0.0006},{"k":"ITG–Goce02","t":"s","n":10,"v":0.00065},{"k":"ITG–Goce02","t":"s","n":11,"v":0.00068},{"k":"ITG–Goce02","t":"s","n":12,"v":0.00072},{"k":"ITG–Goce02","t":"s","n":13,"v":0.0008},{"k":"ITG–Goce02","t":"s","n":14,"v":0.00085},{"k":"ITG–Goce02","t":"s","n":15,"v":0.00092},{"k":"ITG–Goce02","t":"s","n":16,"v":0.0009},{"k":"ITG–Goce02","t":"s","n":17,"v":0.00082},{"k":"ITG–Goce02","t":"s","n":18,"v":0.00075},{"k":"ITG–Goce02","t":"s","n":19,"v":0.00068},{"k":"ITG–Goce02","t":"s","n":20,"v":0.00072},{"k":"ITG–Goce02","t":"s","n":21,"v":0.00076},{"k":"ITG–Goce02","t":"s","n":22,"v":0.00069},{"k":"ITG–Goce02","t":"s","n":23,"v":0.00072},{"k":"ITG–Goce02","t":"s","n":24,"v":0.00067},{"k":"ITG–Goce02","t":"s","n":25,"v":0.00074},{"k":"ITG–Goce02","t":"s","n":26,"v":0.00068},{"k":"ITG–Goce02","t":"s","n":27,"v":0.00064},{"k":"ITG–Goce02","t":"s","n":28,"v":0.00071},{"k":"ITG–Goce02","t":"s","n":29,"v":0.00062},{"k":"ITG–Goce02","t":"s","n":30,"v":0.00052},{"k":"ITG–Goce02","t":"s","n":31,"v":0.00048},{"k":"ITG–Goce02","t":"s","n":32,"v":0.00046},{"k":"ITG–Goce02","t":"s","n":33,"v":0.0005},{"k":"ITG–Goce02","t":"s","n":34,"v":0.00046},{"k":"ITG–Goce02","t":"s","n":35,"v":0.00048},{"k":"ITG–Goce02","t":"s","n":36,"v":0.00051},{"k":"ITG–Goce02","t":"s","n":37,"v":0.00047},{"k":"ITG–Goce02","t":"s","n":38,"v":0.00052},{"k":"ITG–Goce02","t":"s","n":39,"v":0.00048},{"k":"ITG–Goce02","t":"s","n":40,"v":0.00046},{"k":"ITG–Goce02","t":"s","n":41,"v":0.0005},{"k":"ITG–Goce02","t":"s","n":42,"v":0.00047},{"k":"ITG–Goce02","t":"s","n":43,"v":0.00055},{"k":"ITG–Goce02","t":"s","n":44,"v":0.00052},{"k":"ITG–Goce02","t":"s","n":45,"v":0.00057},{"k":"ITG–Goce02","t":"s","n":46,"v":0.00051},{"k":"ITG–Goce02","t":"s","n":47,"v":0.00049},{"k":"ITG–Goce02","t":"s","n":48,"v":0.00056},{"k":"ITG–Goce02","t":"s","n":49,"v":0.00052},{"k":"ITG–Goce02","t":"s","n":50,"v":0.00055},{"k":"ITG–Goce02","t":"s","n":51,"v":0.0005},{"k":"ITG–Goce02","t":"s","n":52,"v":0.00053},{"k":"ITG–Goce02","t":"s","n":53,"v":0.00058},{"k":"ITG–Goce02","t":"s","n":54,"v":0.00052},{"k":"ITG–Goce02","t":"s","n":55,"v":0.00049},{"k":"ITG–Goce02","t":"s","n":56,"v":0.00055},{"k":"ITG–Goce02","t":"s","n":57,"v":0.00053},{"k":"ITG–Goce02","t":"s","n":58,"v":0.00058},{"k":"ITG–Goce02","t":"s","n":59,"v":0.00064},{"k":"ITG–Goce02","t":"s","n":60,"v":0.00061},{"k":"ITG–Goce02","t":"s","n":61,"v":0.00068},{"k":"ITG–Goce02","t":"s","n":62,"v":0.00063},{"k":"ITG–Goce02","t":"s","n":63,"v":0.00072},{"k":"ITG–Goce02","t":"s","n":64,"v":0.00078},{"k":"ITG–Goce02","t":"s","n":65,"v":0.00085},{"k":"ITG–Goce02","t":"s","n":66,"v":0.0012},{"k":"ITG–Goce02","t":"s","n":67,"v":0.0014},{"k":"ITG–Goce02","t":"s","n":68,"v":0.0013},{"k":"ITG–Goce02","t":"s","n":69,"v":0.0019},{"k":"ITG–Goce02","t":"s","n":70,"v":0.0021},{"k":"ITG–Goce02","t":"s","n":71,"v":0.0023},{"k":"ITG–Goce02","t":"s","n":72,"v":0.0024},{"k":"ITG–Goce02","t":"s","n":73,"v":0.003},{"k":"ITG–Goce02","t":"s","n":74,"v":0.0029},{"k":"ITG–Goce02","t":"s","n":75,"v":0.0033},{"k":"ITG–Goce02","t":"s","n":76,"v":0.0034},{"k":"ITG–Goce02","t":"s","n":77,"v":0.004},{"k":"ITG–Goce02","t":"s","n":78,"v":0.005},{"k":"ITG–Goce02","t":"s","n":79,"v":0.0055},{"k":"ITG–Goce02","t":"s","n":80,"v":0.0058},{"k":"ITG–Goce02","t":"s","n":81,"v":0.0063},{"k":"ITG–Goce02","t":"s","n":82,"v":0.0066},{"k":"ITG–Goce02","t":"s","n":83,"v":0.0069},{"k":"ITG–Goce02","t":"s","n":84,"v":0.007},{"k":"ITG–Goce02","t":"s","n":85,"v":0.0074},{"k":"ITG–Goce02","t":"s","n":86,"v":0.0076},{"k":"ITG–Goce02","t":"s","n":87,"v":0.0083},{"k":"ITG–Goce02","t":"s","n":88,"v":0.0088},{"k":"ITG–Goce02","t":"s","n":89,"v":0.0093},{"k":"ITG–Goce02","t":"s","n":90,"v":0.0097},{"k":"ITG–Goce02","t":"s","n":92,"v":0.0102},{"k":"ITG–Goce02","t":"s","n":94,"v":0.0097},{"k":"ITG–Goce02","t":"s","n":96,"v":0.0105},{"k":"ITG–Goce02","t":"s","n":98,"v":0.01},{"k":"ITG–Goce02","t":"s","n":100,"v":0.0108},{"k":"ITG–Goce02","t":"s","n":102,"v":0.0102},{"k":"ITG–Goce02","t":"s","n":104,"v":0.011},{"k":"ITG–Goce02","t":"s","n":106,"v":0.0104},{"k":"ITG–Goce02","t":"s","n":108,"v":0.0113},{"k":"ITG–Goce02","t":"s","n":110,"v":0.0106},{"k":"ITG–Goce02","t":"s","n":112,"v":0.0115},{"k":"ITG–Goce02","t":"s","n":114,"v":0.0108},{"k":"ITG–Goce02","t":"s","n":116,"v":0.0117},{"k":"ITG–Goce02","t":"s","n":118,"v":0.0111},{"k":"ITG–Goce02","t":"s","n":120,"v":0.0119},{"k":"ITG–Goce02","t":"s","n":122,"v":0.0113},{"k":"ITG–Goce02","t":"s","n":124,"v":0.0122},{"k":"ITG–Goce02","t":"s","n":126,"v":0.0116},{"k":"ITG–Goce02","t":"s","n":128,"v":0.0125},{"k":"ITG–Goce02","t":"s","n":130,"v":0.0118},{"k":"ITG–Goce02","t":"s","n":132,"v":0.0128},{"k":"ITG–Goce02","t":"s","n":134,"v":0.0121},{"k":"ITG–Goce02","t":"s","n":136,"v":0.013},{"k":"ITG–Goce02","t":"s","n":138,"v":0.0122},{"k":"ITG–Goce02","t":"s","n":140,"v":0.0129},{"k":"ITG–Goce02","t":"s","n":142,"v":0.012},{"k":"ITG–Goce02","t":"s","n":144,"v":0.0128},{"k":"ITG–Goce02","t":"s","n":146,"v":0.0119},{"k":"ITG–Goce02","t":"s","n":148,"v":0.0126},{"k":"ITG–Goce02","t":"s","n":150,"v":0.0118},{"k":"ITG–Goce02","t":"s","n":152,"v":0.0116},{"k":"ITG–Goce02","t":"s","n":154,"v":0.011},{"k":"ITG–Goce02","t":"s","n":156,"v":0.0114},{"k":"ITG–Goce02","t":"s","n":158,"v":0.0111},{"k":"ITG–Goce02","t":"s","n":160,"v":0.0118},{"k":"ITG–Goce02","t":"s","n":162,"v":0.0124},{"k":"ITG–Goce02","t":"s","n":164,"v":0.0131},{"k":"ITG–Goce02","t":"s","n":166,"v":0.0128},{"k":"ITG–Goce02","t":"s","n":168,"v":0.0135},{"k":"ITG–Goce02","t":"s","n":170,"v":0.0133},{"k":"ITG–Goce02","t":"s","n":172,"v":0.0141},{"k":"ITG–Goce02","t":"s","n":174,"v":0.0139},{"k":"ITG–Goce02","t":"s","n":176,"v":0.0148},{"k":"ITG–Goce02","t":"s","n":178,"v":0.0152},{"k":"ITG–Goce02","t":"s","n":180,"v":0.016},{"k":"ITG–Goce02","t":"s","n":182,"v":0.0158},{"k":"ITG–Goce02","t":"s","n":184,"v":0.0166},{"k":"ITG–Goce02","t":"s","n":186,"v":0.017},{"k":"ITG–Goce02","t":"s","n":188,"v":0.0175},{"k":"ITG–Goce02","t":"s","n":190,"v":0.0178},{"k":"ITG–Goce02","t":"s","n":192,"v":0.0184},{"k":"ITG–Goce02","t":"s","n":194,"v":0.0188},{"k":"ITG–Goce02","t":"s","n":196,"v":0.0193},{"k":"ITG–Goce02","t":"s","n":198,"v":0.0197},{"k":"ITG–Goce02","t":"s","n":200,"v":0.0203},{"k":"ITG–Goce02","t":"s","n":202,"v":0.0201},{"k":"ITG–Goce02","t":"s","n":204,"v":0.0209},{"k":"ITG–Goce02","t":"s","n":206,"v":0.0212},{"k":"ITG–Goce02","t":"s","n":208,"v":0.0216},{"k":"ITG–Goce02","t":"s","n":210,"v":0.022},{"k":"ITG–Goce02","t":"s","n":212,"v":0.0226},{"k":"ITG–Goce02","t":"s","n":214,"v":0.023},{"k":"ITG–Goce02","t":"s","n":216,"v":0.0236},{"k":"ITG–Goce02","t":"s","n":218,"v":0.024},{"k":"ITG–Goce02","t":"s","n":220,"v":0.0244},{"k":"ITG–Goce02","t":"s","n":222,"v":0.0247},{"k":"ITG–Goce02","t":"s","n":224,"v":0.025},{"k":"ITG–Goce02","t":"s","n":226,"v":0.0254},{"k":"ITG–Goce02","t":"s","n":228,"v":0.0256},{"k":"ITG–Goce02","t":"s","n":230,"v":0.0258},{"k":"ITG–Goce02","t":"s","n":232,"v":0.0255},{"k":"ITG–Goce02","t":"s","n":234,"v":0.0262},{"k":"ITG–Goce02","t":"s","n":236,"v":0.026},{"k":"ITG–Goce02","t":"s","n":238,"v":0.0266},{"k":"ITG–Goce02","t":"s","n":240,"v":0.0267}
]},
"resolve": {"axis": {"x": "independent"}},
"layer": [
{
"transform": [{"filter": "datum.t === 'd'"}],
"mark": {"type": "line", "clip": true, "strokeWidth": 1.2, "strokeDash": [6, 3]},
"encoding": {
"x": {"field": "n", "type": "quantitative",
"scale": {"domain": [0, 254.6], "nice": false, "zero": false},
"axis": {"orient": "bottom", "values": [0,10,20,30,40,50,60,70,80,90,100,110,120,130,140,150,160,170,180,190,200,210,220,230,240,250],
"title": "spherical harmonic degree [–]", "titleFontSize": 16, "titleFontWeight": "normal", "titleColor": "black", "titlePadding": 4,
"labelFontSize": 16, "labelColor": "black", "labelPadding": 2, "labelFlush": false, "labelOverlap": false,
"labelExpr": "datum.value % 30 === 0 ? datum.label : ''",
"tickColor": "black", "tickWidth": 1,
"tickSize": {"condition": {"test": "datum.value % 30 === 0", "value": 7}, "value": 4},
"domainColor": "black", "domainWidth": 1,
"grid": true, "gridColor": "black", "gridWidth": 1,
"gridOpacity": {"condition": {"test": "datum.value % 30 === 0", "value": 1}, "value": 0}}},
"y": {"field": "v", "type": "quantitative",
"scale": {"type": "log", "domain": [0.0001, 1], "nice": false},
"axis": {"orient": "left", "values": [0.0001,0.0002,0.0003,0.0004,0.0005,0.0006,0.0007,0.0008,0.0009,0.001,0.002,0.003,0.004,0.005,0.006,0.007,0.008,0.009,0.01,0.02,0.03,0.04,0.05,0.06,0.07,0.08,0.09,0.1,0.2,0.3,0.4,0.5,0.6,0.7,0.8,0.9,1],
"title": "degree amplitude in geoid height [m]", "titleFontSize": 16, "titleFontWeight": "normal", "titleColor": "black", "titlePadding": 8,
"labelFontSize": 16, "labelColor": "black", "labelPadding": 5, "labelOverlap": false, "labelFlush": false,
"labelExpr": "datum.value === 1 ? '1' : datum.value === 0.1 ? '0.1' : datum.value === 0.01 ? '0.01' : datum.value === 0.001 ? '0.001' : datum.value === 0.0001 ? '0.0001' : ''",
"tickColor": "black", "tickWidth": 1,
"tickSize": {"condition": {"test": "datum.value === 1 || datum.value === 0.1 || datum.value === 0.01 || datum.value === 0.001 || datum.value === 0.0001", "value": 8}, "value": 4},
"domainColor": "black", "domainWidth": 1,
"grid": true, "gridColor": "black", "gridWidth": 1}},
"color": {"field": "k", "type": "nominal",
"scale": {"domain": ["EGM2008", "ITG–Goce02", " ", "DIR_R2", "SPW_R2", "TIM_R2"], "range": ["#000000", "#ff9900", "#ffffff", "#0000ff", "#ff0000", "#1a8c1a"]},
"legend": {"title": null, "orient": "none", "legendX": 299, "legendY": -5, "columns": 2,
"symbolType": "stroke", "symbolSize": 200, "symbolStrokeWidth": 1.5, "symbolDash": [1, 0],
"labelFontSize": 16, "labelColor": "black", "labelOffset": 8, "rowPadding": 8, "columnPadding": 9,
"padding": 8, "strokeColor": "black", "fillColor": "white",
"labelExpr": "datum.label === 'SPW_R2' ? 'SPW_R2\u00a0\u00a0\u00a0\u00a0\u00a0\u00a0' : datum.label"}}
}
},
{
"transform": [{"filter": "datum.t === 's' && datum.k !== 'ITG–Goce02'"}],
"mark": {"type": "line", "clip": true, "strokeWidth": 1.2},
"encoding": {
"x": {"field": "n", "type": "quantitative",
"axis": {"orient": "top", "values": [0,10,20,30,40,50,60,70,80,90,100,110,120,130,140,150,160,170,180,190,200,210,220,230,240,250],
"title": null, "labels": false, "grid": false, "domainColor": "black", "tickColor": "black", "tickWidth": 1,
"tickSize": {"condition": {"test": "datum.value % 30 === 0", "value": 8}, "value": 4}}},
"y": {"field": "v", "type": "quantitative"},
"color": {"field": "k", "type": "nominal"}
}
},
{
"transform": [{"filter": "datum.t === 's' && datum.k === 'ITG–Goce02'"}],
"mark": {"type": "line", "clip": true, "strokeWidth": 1.2},
"encoding": {
"x": {"field": "n", "type": "quantitative", "axis": null},
"y": {"field": "v", "type": "quantitative"},
"color": {"field": "k", "type": "nominal"}
}
}
]
}
